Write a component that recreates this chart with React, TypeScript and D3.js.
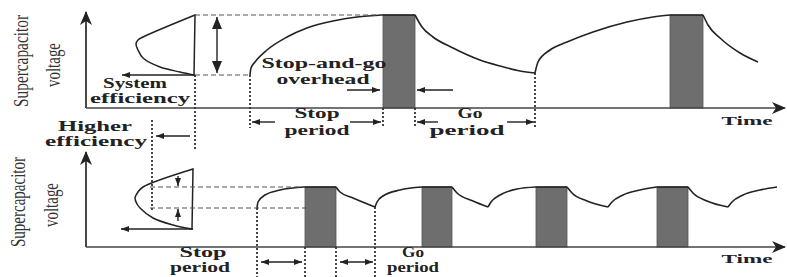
import * as d3 from "d3";
import React from "react";

const W = 787;
const H = 277;

// time runs 0..700 from the voltage axis; voltage 0..100 per panel
// top panel: [time, voltage] points
const topCharge = [
  [[164, 33], [165, 40], [169, 46], [181, 58], [201, 71], [221, 80], [247, 87], [271, 91], [297, 93]],
  [[449, 35], [452, 46], [464, 58], [481, 66], [507, 76], [541, 86], [567, 91], [584, 93]],
];
const topDecay = [
  [[329, 93], [336, 81], [347, 71], [367, 60], [394, 48], [414, 42], [434, 37], [449, 35]],
  [[617, 93], [622, 83], [634, 70], [654, 55], [672, 46]],
];
const topOverhead = [[297, 329], [584, 617]];
const topVmax = 93;
const topVmin = 33;

// bottom panel
const bottomCharge = [
  [[171, 39], [172, 45], [179, 52], [194, 57], [219, 60]],
  [[289, 40], [291, 45], [297, 51], [314, 57], [336, 60]],
  [[402, 40], [405, 45], [414, 52], [431, 58], [450, 60]],
  [[522, 40], [526, 45], [537, 52], [554, 57], [571, 60]],
  [[642, 40], [646, 45], [657, 52], [674, 57], [691, 60]],
];
const bottomDecay = [
  [[250, 60], [254, 55], [267, 49], [289, 40]],
  [[366, 60], [371, 54], [387, 46], [402, 40]],
  [[481, 60], [486, 54], [501, 46], [522, 40]],
  [[602, 60], [607, 54], [621, 46], [642, 40]],
];
const bottomOverhead = [[219, 250], [336, 366], [450, 481], [571, 602]];
const bottomVmax = 60;
const bottomVmin = 39;

// efficiency curves on the left (time, voltage)
const topEfficiency = [[109, 93], [57, 71], [52, 68], [50, 64], [52, 58], [57, 50], [74, 41], [94, 36], [108, 33]];
const bottomEfficiency = [[107, 78], [57, 60], [52, 55], [49, 49], [51, 43], [54, 39], [67, 29], [87, 22], [106, 18]];

const axisLabel = ["Supercapacitor", "voltage"];
const timeLabel = "Time";

const INK = "#222";

export default function App() {
  const x = d3.scaleLinear().domain([0, 700]).range([86, 786]);
  const yTop = d3.scaleLinear().domain([0, 100]).range([108, 8]);
  const yBot = d3.scaleLinear().domain([0, 100]).range([247, 147]);

  const curve = (y: d3.ScaleLinear<number, number>) =>
    d3.line<number[]>().x(d => x(d[0])).y(d => y(d[1])).curve(d3.curveMonotoneX);
  const outline = (y: d3.ScaleLinear<number, number>) =>
    d3.line<number[]>().x(d => x(d[0])).y(d => y(d[1])).curve(d3.curveCatmullRom.alpha(0.5));

  const dotted = { stroke: "#333", strokeWidth: 1.8, strokeDasharray: "2,2" };
  const dashed = { stroke: "#555", strokeWidth: 1.2, strokeDasharray: "5,3" };

  const label = (t: string, cx: number, by: number, w: number, fs = 14) => (
    <text key={t + cx + by} x={cx} y={by} textAnchor="middle" fontSize={fs} fontWeight="bold"
      textLength={w} lengthAdjust="spacingAndGlyphs" fill={INK}>{t}</text>
  );
  // rotated axis title, stretched sideways like the source image
  const vlabel = (t: string, bx: number, cy: number, len: number) => (
    <text key={t + bx + cy} transform={`translate(${bx},${cy}) scale(1.45,1) rotate(-90)`} textAnchor="middle"
      fontSize={15} textLength={len} lengthAdjust="spacingAndGlyphs" fill="#333">{t}</text>
  );
  const arrow = (x1: number, y1: number, x2: number, y2: number, both = false, big = false) => (
    <line key={`${x1}-${y1}-${x2}-${y2}`} x1={x1} y1={y1} x2={x2} y2={y2} stroke={INK} strokeWidth={1.4}
      markerEnd={big ? "url(#big)" : "url(#small)"}
      markerStart={both ? (big ? "url(#big)" : "url(#small)") : undefined} />
  );

  const panel = (
    y: d3.ScaleLinear<number, number>,
    charge: number[][][],
    decay: number[][][],
    overhead: number[][],
    vmax: number,
    axisY: number,
    topY: number,
  ) => (
    <g>
      {overhead.map(([a, b], i) => (
        <rect key={"o" + i} x={x(a)} y={y(vmax)} width={x(b) - x(a)} height={axisY - y(vmax)}
          fill="#6e6e6e" stroke="#555" strokeWidth={0.8} />
      ))}
      {charge.map((c, i) => (
        <path key={"c" + i} d={curve(y)(c) || ""} fill="none" stroke={INK} strokeWidth={1.6} />
      ))}
      {decay.map((c, i) => (
        <path key={"d" + i} d={curve(y)(c) || ""} fill="none" stroke={INK} strokeWidth={1.6} />
      ))}
      {overhead.map(([a, b], i) => (
        <line key={"f" + i} x1={x(a)} x2={x(b)} y1={y(vmax)} y2={y(vmax)} stroke={INK} strokeWidth={1.6} />
      ))}
      <line x1={x(0)} y1={axisY} x2={x(0)} y2={topY} stroke="#333" strokeWidth={1.8} markerEnd="url(#axis)" />
      <line x1={x(0)} y1={axisY} x2={x(700) - 1} y2={axisY} stroke="#444" strokeWidth={1.6} markerEnd="url(#axis)" />
    </g>
  );

  return (
    <svg width={W} height={H} style={{ position: "absolute", left: 0, top: 0, background: "#fff" }}
      fontFamily="'Liberation Serif', 'Times New Roman', serif">
      <defs>
        <marker id="small" viewBox="0 0 8 6" refX={8} refY={3} markerWidth={8} markerHeight={6}
          markerUnits="userSpaceOnUse" orient="auto-start-reverse">
          <path d="M0,0 L8,3 L0,6 Z" fill={INK} />
        </marker>
        <marker id="big" viewBox="0 0 12 10" refX={12} refY={5} markerWidth={12} markerHeight={10}
          markerUnits="userSpaceOnUse" orient="auto-start-reverse">
          <path d="M0,0 L12,5 L0,10 Z" fill={INK} />
        </marker>
        <marker id="axis" viewBox="0 0 14 12" refX={13} refY={6} markerWidth={14} markerHeight={12}
          markerUnits="userSpaceOnUse" orient="auto">
          <path d="M0,0 L14,6 L0,12 L4,6 Z" fill={INK} />
        </marker>
      </defs>

      {/* ---------- top panel ---------- */}
      {panel(yTop, topCharge, topDecay, topOverhead, topVmax, 108, 12)}
      <path d={(outline(yTop)(topEfficiency) || "") + "Z"} fill="none" stroke={INK} strokeWidth={1.5} />
      <line x1={x(109)} x2={x(topCharge[0][topCharge[0].length - 1][0])} y1={yTop(topVmax)} y2={yTop(topVmax)} {...dashed} />
      <line x1={x(109)} x2={x(topCharge[0][0][0])} y1={yTop(topVmin)} y2={yTop(topVmin)} {...dashed} />
      {arrow(217, yTop(topVmax) + 2, 217, yTop(topVmin) - 2, true, true)}
      {arrow(x(109), yTop(topVmin), 122, yTop(topVmin))}
      <line x1={x(109)} x2={x(109)} y1={yTop(topVmin)} y2={150} {...dotted} />
      <line x1={152} x2={152} y1={120} y2={210} {...dotted} />
      {[topCharge[0][0], topDecay[0][topDecay[0].length - 1]].map((p, i) => (
        <line key={"tv" + i} x1={x(p[0])} x2={x(p[0])} y1={yTop(p[1])} y2={128} {...dotted} />
      ))}
      {topOverhead[0].map((t, i) => (
        <line key={"to" + i} x1={x(t)} x2={x(t)} y1={108} y2={128} {...dotted} />
      ))}
      {label("System", 135, 88, 64)}
      {label("efficiency", 140, 103, 100)}
      {label("Higher", 95, 131, 74)}
      {label("efficiency", 96, 146, 102)}
      {arrow(190, 136, 156, 136)}
      {label("Stop-and-go", 324, 68, 125)}
      {label("overhead", 323, 84, 93)}
      {arrow(347, 90, 380, 90)}
      {arrow(453, 90, 417, 90)}
      {label("Stop", 317, 118, 45)}
      {label("period", 317, 135, 65)}
      {arrow(275, 122, 252, 122)}
      {arrow(350, 122, 381, 122)}
      {label("Go", 470, 118, 25)}
      {label("period", 467, 135, 75)}
      {arrow(438, 122, 417, 122)}
      {arrow(507, 122, 534, 122)}
      {label(timeLabel, 747, 125, 51, 13)}
      {vlabel(axisLabel[0], 28, 61, 92)}
      {vlabel(axisLabel[1], 60, 65, 44)}

      {/* ---------- bottom panel ---------- */}
      {panel(yBot, bottomCharge, bottomDecay, bottomOverhead, bottomVmax, 247, 152)}
      <path d={(outline(yBot)(bottomEfficiency) || "") + "Z"} fill="none" stroke={INK} strokeWidth={1.5} />
      <line x1={150} x2={x(bottomCharge[0][bottomCharge[0].length - 1][0])} y1={yBot(bottomVmax)} y2={yBot(bottomVmax)} {...dashed} />
      <line x1={150} x2={310} y1={yBot(bottomVmin)} y2={yBot(bottomVmin)} {...dashed} />
      {arrow(178, 176, 178, yBot(bottomVmax) - 1)}
      {arrow(178, 221, 178, yBot(bottomVmin) + 1)}
      {arrow(x(107), 229, 121, 229)}
      {[bottomCharge[0][0], bottomDecay[0][bottomDecay[0].length - 1]].map((p, i) => (
        <line key={"bv" + i} x1={x(p[0])} x2={x(p[0])} y1={yBot(p[1])} y2={277} {...dotted} />
      ))}
      {bottomOverhead[0].map((t, i) => (
        <line key={"bo" + i} x1={x(t)} x2={x(t)} y1={247} y2={277} {...dotted} />
      ))}
      {arrow(261, 262, 302, 262, true)}
      {arrow(340, 262, 373, 262, true)}
      {label("Stop", 203, 257, 47)}
      {label("period", 200, 272, 60)}
      {label("Go", 413, 257, 22)}
      {label("period", 413, 272, 52)}
      {label(timeLabel, 747, 263, 51, 13)}
      {vlabel(axisLabel[0], 25, 202, 90)}
      {vlabel(axisLabel[1], 58, 205, 44)}
    </svg>
  );
}
